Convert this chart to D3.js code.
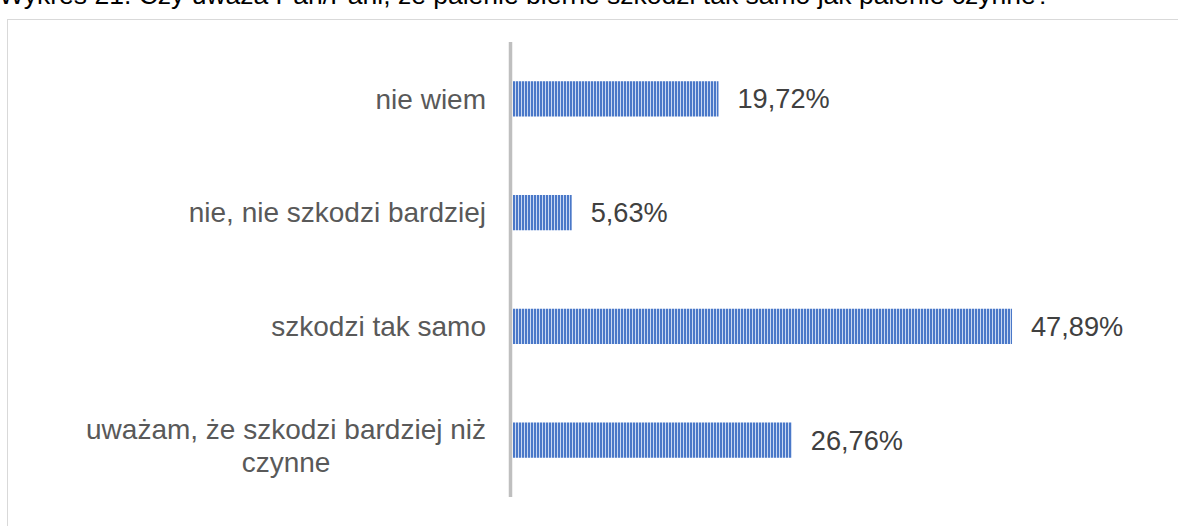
<!DOCTYPE html>
<html>
<head>
<meta charset="utf-8">
<script src="https://cdn.jsdelivr.net/npm/d3@7"></script>
<style>
  body { margin: 0; background: #fff; }
  text { font-family: Arial, "Liberation Sans", sans-serif; }
</style>
</head>
<body>
<div id="chart"></div>
<script>
const title = 'Wykres 21. Czy uważa Pan/Pani, że palenie bierne szkodzi tak samo jak palenie czynne?';
const categories = ['nie wiem', 'nie, nie szkodzi bardziej', 'szkodzi tak samo', 'uważam, że szkodzi bardziej niż|czynne'];
const values = [19.72, 5.63, 47.89, 26.76];
const valueLabels = ['19,72%', '5,63%', '47,89%', '26,76%'];

const W = 1178, H = 526;
const svg = d3.select('#chart').append('svg')
  .attr('width', W)
  .attr('height', H);

// striped fill like the Excel pattern
const defs = svg.append('defs');
const pat = defs.append('pattern')
  .attr('id', 'stripes')
  .attr('patternUnits', 'userSpaceOnUse')
  .attr('width', 3)
  .attr('height', 10);
pat.append('rect').attr('width', 3).attr('height', 10).attr('fill', '#4a78c8');
pat.append('rect').attr('x', 2).attr('width', 1).attr('height', 10).attr('fill', '#c9d8f2');

// chart frame
svg.append('rect')
  .attr('x', 7.5).attr('y', 19.5)
  .attr('width', W + 10).attr('height', H)
  .attr('fill', 'none')
  .attr('stroke', '#d9d9d9');

// title is partly above the visible area, as in the source
svg.append('text')
  .attr('x', -1).attr('y', 4)
  .attr('font-size', 26.5)
  .attr('fill', '#000')
  .text(title);

const x = d3.scaleLinear().domain([0, 50]).range([513, 1034]);
const y = d3.scaleBand().domain(categories).range([42, 497]).paddingInner(0.69).paddingOuter(0.345);

svg.selectAll('rect.bar')
  .data(values)
  .enter()
  .append('rect')
  .attr('class', 'bar')
  .attr('x', x(0))
  .attr('y', (d, i) => y(categories[i]))
  .attr('width', d => x(d) - x(0))
  .attr('height', y.bandwidth())
  .attr('fill', 'url(#stripes)');

// axis line
svg.append('line')
  .attr('x1', 510.5).attr('x2', 510.5)
  .attr('y1', 42).attr('y2', 497)
  .attr('stroke', '#bfbfbf')
  .attr('stroke-width', 3.5);

svg.selectAll('text.val')
  .data(values)
  .enter()
  .append('text')
  .attr('class', 'val')
  .attr('x', d => x(d) + 19)
  .attr('y', (d, i) => y(categories[i]) + y.bandwidth() / 2)
  .attr('dy', '0.35em')
  .attr('font-size', 27.2)
  .attr('fill', '#404040')
  .text((d, i) => valueLabels[i]);

const labelRight = 486;
categories.forEach(c => {
  const lines = c.split('|');
  const cy = y(c) + y.bandwidth() / 2;
  const lh = 33;
  const g = svg.append('text')
    .attr('font-size', 28)
    .attr('fill', '#595959');
  lines.forEach((l, i) => {
    g.append('tspan').text(l)
      .attr('y', cy + (i - (lines.length - 1) / 2) * lh + (lines.length > 1 ? 6 : 0))
      .attr('dy', '0.35em');
  });
  if (lines.length === 1) {
    g.attr('text-anchor', 'end').selectAll('tspan').attr('x', labelRight);
  } else {
    const wMax = d3.max(g.selectAll('tspan').nodes(), n => n.getComputedTextLength());
    g.attr('text-anchor', 'middle').selectAll('tspan').attr('x', labelRight - wMax / 2);
  }
});
</script>
</body>
</html>
